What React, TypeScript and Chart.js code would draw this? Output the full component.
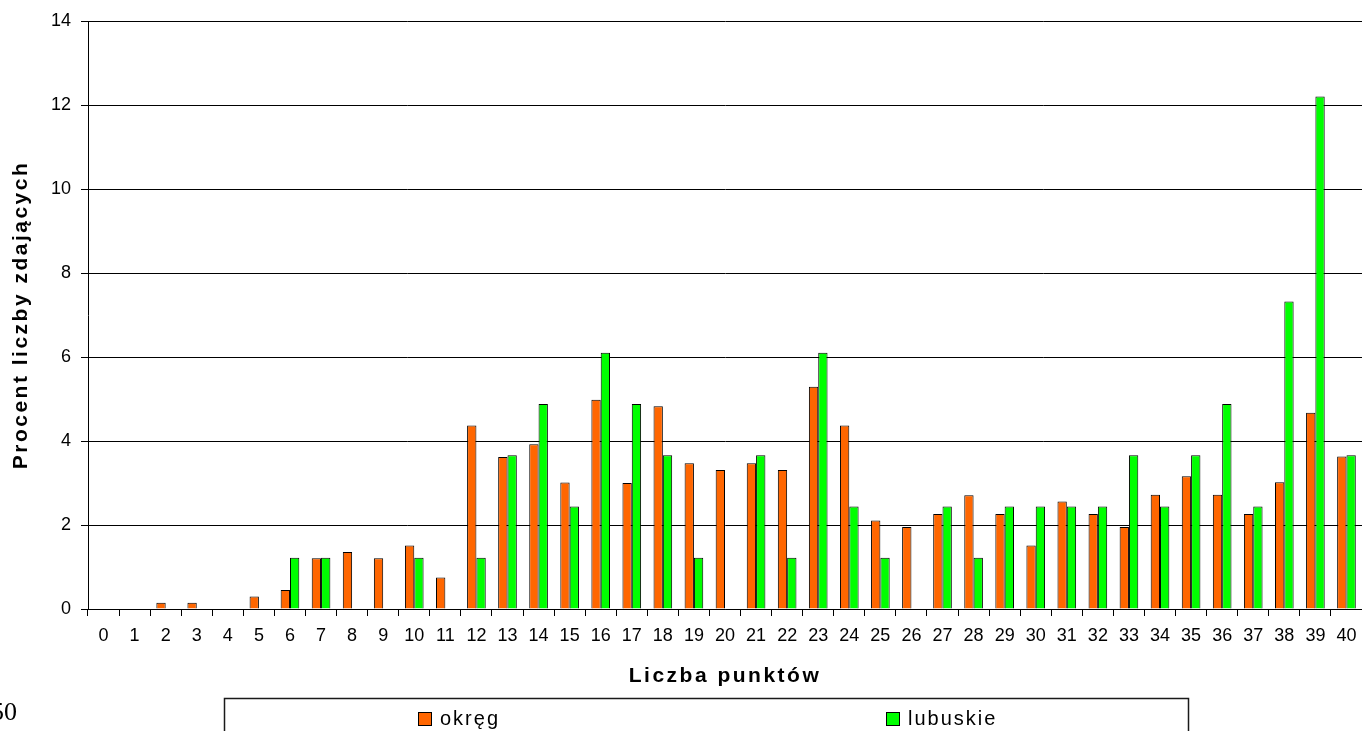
import React, { useEffect, useRef } from "react";
import { Chart, registerables } from "chart.js";

Chart.register(...registerables);

const categories = [
  "0", "1", "2", "3", "4", "5", "6", "7", "8", "9", "10",
  "11", "12", "13", "14", "15", "16", "17", "18", "19", "20",
  "21", "22", "23", "24", "25", "26", "27", "28", "29", "30",
  "31", "32", "33", "34", "35", "36", "37", "38", "39", "40",
];

const okregValues = [
  0, 0, 0.15, 0.15, 0, 0.3, 0.45, 1.21, 1.36, 1.21, 1.51,
  0.75, 4.37, 3.62, 3.92, 3.01, 4.98, 3.0, 4.83, 3.47, 3.31,
  3.47, 3.31, 5.29, 4.37, 2.11, 1.95, 2.26, 2.71, 2.26, 1.51,
  2.56, 2.26, 1.95, 2.72, 3.16, 2.72, 2.26, 3.02, 4.67, 3.63,
];

const lubuskieValues = [
  0, 0, 0, 0, 0, 0, 1.22, 1.22, 0, 0, 1.22,
  0, 1.22, 3.66, 4.88, 2.44, 6.1, 4.88, 3.66, 1.22, 0,
  3.66, 1.22, 6.1, 2.44, 1.22, 0, 2.44, 1.22, 2.44, 2.44,
  2.44, 2.44, 3.66, 2.44, 3.66, 4.88, 2.44, 7.32, 12.2, 3.66,
];

const seriesLabels = ["okręg", "lubuskie"];
const seriesColors = ["#FF6600", "#00FF00"];
const yTitle = "Procent liczby zdających";
const xTitle = "Liczba punktów";
const pageNumber = "50";

const FONT = "'Liberation Sans', Arial, sans-serif";

const spacedTitles = {
  id: "spacedTitles",
  beforeDraw(chart: any) {
    Object.values(chart.scales).forEach((s: any) => {
      if (s.__spaced) return;
      const orig = s.drawTitle.bind(s);
      s.drawTitle = function () {
        const c = this.ctx;
        c.save();
        (c as any).letterSpacing = "2.5px";
        orig();
        c.restore();
      };
      s.__spaced = true;
    });
  },
};

const boxLegend = {
  id: "boxLegend",
  afterDraw(chart: any) {
    const ctx = chart.ctx as CanvasRenderingContext2D;
    ctx.save();
    ctx.strokeStyle = "#1a1a1a";
    ctx.lineWidth = 1.5;
    ctx.strokeRect(224.5, 698.5, 964, 80);
    const xs = [418, 886];
    chart.data.datasets.forEach((ds: any, i: number) => {
      const x = xs[i];
      ctx.fillStyle = ds.backgroundColor;
      ctx.fillRect(x, 712, 14, 14);
      ctx.strokeStyle = "#000";
      ctx.lineWidth = 1;
      ctx.strokeRect(x + 0.5, 712.5, 13, 13);
      ctx.fillStyle = "#000";
      ctx.font = `20px ${FONT}`;
      (ctx as any).letterSpacing = "2px";
      ctx.textAlign = "left";
      ctx.textBaseline = "alphabetic";
      ctx.fillText(ds.label, x + 22, 725);
      (ctx as any).letterSpacing = "0px";
    });
    ctx.restore();
  },
};

export default function App() {
  const ref = useRef<HTMLCanvasElement | null>(null);

  useEffect(() => {
    if (!ref.current) return;
    const chart = new Chart(ref.current, {
      type: "bar",
      data: {
        labels: categories,
        datasets: [
          {
            label: seriesLabels[0],
            data: okregValues,
            backgroundColor: seriesColors[0],
            borderColor: "#000",
            borderWidth: 1,
          },
          {
            label: seriesLabels[1],
            data: lubuskieValues,
            backgroundColor: seriesColors[1],
            borderColor: "#000",
            borderWidth: 1,
          },
        ],
      },
      options: {
        animation: false,
        responsive: false,
        maintainAspectRatio: false,
        layout: { padding: { top: 21, left: 0, right: 0, bottom: 0 } },
        datasets: {
          bar: { categoryPercentage: 0.6, barPercentage: 1 },
        },
        plugins: {
          legend: { display: false },
          tooltip: { enabled: false },
        },
        scales: {
          x: {
            type: "category",
            grid: {
              offset: true,
              drawOnChartArea: false,
              drawTicks: true,
              tickLength: 7,
              color: "#000",
            },
            border: { display: true, color: "#000", width: 1 },
            ticks: {
              color: "#000",
              font: { family: FONT, size: 18, lineHeight: 1.98 },
              padding: 2,
              maxRotation: 0,
              autoSkip: false,
            },
            title: {
              display: true,
              text: xTitle,
              color: "#000",
              font: { family: FONT, size: 21, weight: "bold" },
              padding: { top: 0, bottom: 42 },
            },
            afterFit(scale: any) {
              scale.height = 122;
            },
          },
          y: {
            min: 0,
            max: 14,
            ticks: {
              stepSize: 2,
              color: "#000",
              font: { family: FONT, size: 18 },
              padding: 10,
            },
            grid: {
              color: "#000",
              lineWidth: 1,
              drawTicks: true,
              tickLength: 7,
            },
            border: { display: true, color: "#000", width: 1 },
            title: {
              display: true,
              text: yTitle,
              color: "#000",
              font: { family: FONT, size: 21, weight: "bold" },
              padding: { top: 9, bottom: 0 },
            },
            afterFit(scale: any) {
              scale.width = 88;
            },
          },
        },
      } as any,
      plugins: [spacedTitles, boxLegend],
    });
    return () => chart.destroy();
  }, []);

  return (
    <div>
      <canvas
        ref={ref}
        width={1362}
        height={731}
        style={{ position: "fixed", left: 0, top: 0, display: "block" }}
      />
      <div
        style={{
          position: "fixed",
          left: -9,
          top: 697,
          fontFamily: "'Liberation Serif', 'Times New Roman', serif",
          fontSize: 26,
          lineHeight: "30px",
          color: "#000",
        }}
      >
        {pageNumber}
      </div>
    </div>
  );
}
